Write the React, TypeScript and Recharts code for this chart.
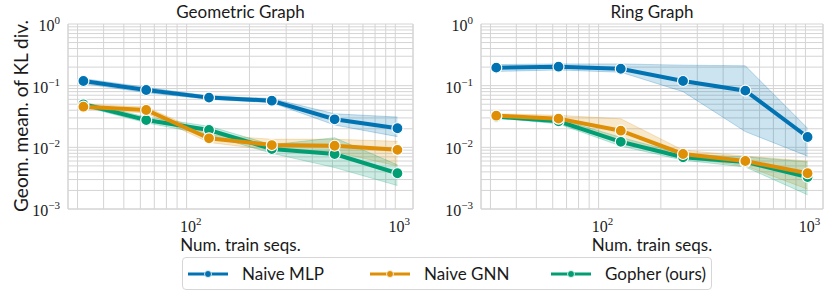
import {
  ComposedChart,
  Line,
  Area,
  XAxis,
  YAxis,
  CartesianGrid,
  ReferenceLine,
} from 'recharts'

// number of training sequences (x)
const trainSeqs = [32, 64, 128, 256, 512, 1024]

// Geometric graph
const mlpGeo = [0.119, 0.085, 0.064, 0.057, 0.0285, 0.0204]
const mlpGeoLo = [0.108, 0.077, 0.06, 0.053, 0.023, 0.0149]
const mlpGeoHi = [0.13, 0.094, 0.068, 0.062, 0.035, 0.031]
const gnnGeo = [0.0456, 0.0403, 0.014, 0.0109, 0.0106, 0.0091]
const gnnGeoLo = [0.042, 0.036, 0.012, 0.009, 0.0085, 0.005]
const gnnGeoHi = [0.05, 0.045, 0.016, 0.0135, 0.0135, 0.0125]
const gopGeo = [0.0499, 0.0277, 0.0191, 0.0094, 0.0078, 0.0038]
const gopGeoLo = [0.046, 0.025, 0.016, 0.008, 0.0047, 0.0024]
const gopGeoHi = [0.054, 0.031, 0.022, 0.011, 0.0143, 0.0052]

// Ring graph
const mlpRing = [0.196, 0.203, 0.188, 0.119, 0.083, 0.0147]
const mlpRingLo = [0.17, 0.18, 0.165, 0.08, 0.018, 0.0072]
const mlpRingHi = [0.22, 0.225, 0.225, 0.215, 0.21, 0.0204]
const gnnRing = [0.0326, 0.0292, 0.0186, 0.0078, 0.006, 0.0038]
const gnnRingLo = [0.031, 0.026, 0.012, 0.0068, 0.005, 0.0021]
const gnnRingHi = [0.035, 0.033, 0.029, 0.009, 0.0072, 0.006]
const gopRing = [0.0314, 0.0264, 0.0123, 0.0069, 0.0058, 0.0033]
const gopRingLo = [0.03, 0.024, 0.0105, 0.0062, 0.0048, 0.0017]
const gopRingHi = [0.033, 0.029, 0.0145, 0.0078, 0.007, 0.0058]

const xMajor = [10, 100, 1000]
const yMajor = [0.001, 0.01, 0.1, 1]
const minorSteps = [1, 2, 3, 4, 5, 6, 7, 8, 9]
const xTicks = xMajor.flatMap((m) => minorSteps.map((s) => m * s)).filter((v) => v >= 27 && v <= 1216)
const yTicks = [...yMajor.slice(0, 3).flatMap((m) => minorSteps.map((s) => m * s)), 1]

const X_DOMAIN: [number, number] = [27, 1216]
const Y_DOMAIN: [number, number] = [0.001, 1]

const COLORS = { mlp: '#0173b2', gnn: '#de8f05', gop: '#029e73' }
const GRID = '#d4d4d4'
const SANS = 'Lato, "Open Sans", sans-serif'
const SERIF = '"Liberation Serif", "DejaVu Serif", serif'
const INK = '#1a1a1a'

type Row = {
  n: number
  mlp: number
  gnn: number
  gop: number
  mlpBand: [number, number]
  gnnBand: [number, number]
  gopBand: [number, number]
}

function buildRows(
  mlp: number[], mlpLo: number[], mlpHi: number[],
  gnn: number[], gnnLo: number[], gnnHi: number[],
  gop: number[], gopLo: number[], gopHi: number[],
): Row[] {
  return trainSeqs.map((n, i) => ({
    n,
    mlp: mlp[i],
    gnn: gnn[i],
    gop: gop[i],
    mlpBand: [mlpLo[i], mlpHi[i]],
    gnnBand: [gnnLo[i], gnnHi[i]],
    gopBand: [gopLo[i], gopHi[i]],
  }))
}

const geoRows = buildRows(mlpGeo, mlpGeoLo, mlpGeoHi, gnnGeo, gnnGeoLo, gnnGeoHi, gopGeo, gopGeoLo, gopGeoHi)
const ringRows = buildRows(mlpRing, mlpRingLo, mlpRingHi, gnnRing, gnnRingLo, gnnRingHi, gopRing, gopRingLo, gopRingHi)

function isPow10(v: number) {
  const l = Math.log10(v)
  return Math.abs(l - Math.round(l)) < 1e-6
}

function expLabel(v: number) {
  const e = Math.round(Math.log10(v))
  return e < 0 ? `\u2212${-e}` : String(e)
}

function YTick({ x, y, payload }: any) {
  if (!isPow10(payload.value)) return <g />
  return (
    <text x={x} y={y + 7} textAnchor="end" fontFamily={SERIF} fontSize={16} fill={INK}>
      <tspan>10</tspan>
      <tspan dy={-7} fontSize={11}>{expLabel(payload.value)}</tspan>
    </text>
  )
}

function XTick({ x, y, payload }: any) {
  if (!isPow10(payload.value)) return <g />
  return (
    <text x={x + 4} y={y + 15} textAnchor="middle" fontFamily={SERIF} fontSize={16} fill={INK}>
      <tspan>10</tspan>
      <tspan dy={-7} fontSize={11}>{expLabel(payload.value)}</tspan>
    </text>
  )
}

const bandKeys: (keyof typeof COLORS)[] = ['mlp', 'gnn', 'gop']
// line draw order: orange ends up on top
const lineKeys: (keyof typeof COLORS)[] = ['mlp', 'gop', 'gnn']

function Panel({ rows, title, left, width }: { rows: Row[]; title: string; left: number; width: number }) {
  const plotLeft = 68
  const plotRight = width - 7
  const center = left + (plotLeft + plotRight) / 2
  return (
    <>
      <div
        style={{
          position: 'absolute', left: center - 120, top: 2, width: 240, textAlign: 'center',
          fontFamily: SANS, fontSize: 17, lineHeight: '20px', color: INK,
        }}
      >
        {title}
      </div>
      <div style={{ position: 'absolute', left, top: 0 }}>
        <ComposedChart
          width={width}
          height={240}
          data={rows}
          margin={{ top: 24, right: 7, left: 8, bottom: 0 }}
        >
          <CartesianGrid stroke={GRID} strokeWidth={1} />
          <XAxis
            dataKey="n"
            type="number"
            scale="log"
            domain={X_DOMAIN}
            ticks={xTicks}
            interval={0}
            allowDataOverflow
            height={31}
            tickLine={false}
            axisLine={{ stroke: GRID }}
            tick={<XTick />}
          />
          <YAxis
            type="number"
            scale="log"
            domain={Y_DOMAIN}
            ticks={yTicks}
            interval={0}
            allowDataOverflow
            width={60}
            tickLine={false}
            axisLine={{ stroke: GRID }}
            tick={<YTick />}
          />
          <ReferenceLine x={X_DOMAIN[1]} stroke={GRID} />
          {bandKeys.map((k) => (
            <Area
              key={k + 'Band'}
              dataKey={k + 'Band'}
              type="linear"
              fill={COLORS[k]}
              fillOpacity={0.2}
              stroke={COLORS[k]}
              strokeOpacity={0.25}
              strokeWidth={1}
              isAnimationActive={false}
              activeDot={false}
            />
          ))}
          {lineKeys.map((k) => (
            <Line
              key={k}
              dataKey={k}
              type="linear"
              stroke={COLORS[k]}
              strokeWidth={4}
              dot={{ r: 5.5, fill: COLORS[k], stroke: '#fff', strokeWidth: 1.2 }}
              activeDot={false}
              isAnimationActive={false}
            />
          ))}
        </ComposedChart>
      </div>
      <div
        style={{
          position: 'absolute', left: center - 120, top: 235, width: 240, textAlign: 'center',
          fontFamily: SANS, fontSize: 17, lineHeight: '20px', color: INK,
        }}
      >
        Num. train seqs.
      </div>
    </>
  )
}

const legendItems = [
  { label: 'Naive MLP', color: COLORS.mlp, x: 5 },
  { label: 'Naive GNN', color: COLORS.gnn, x: 187 },
  { label: 'Gopher (ours)', color: COLORS.gop, x: 368 },
]

export default function App() {
  return (
    <div style={{ position: 'absolute', left: 0, top: 0, width: 830, height: 296, background: '#fff', overflow: 'hidden' }}>
      <Panel rows={geoRows} title="Geometric Graph" left={0} width={420} />
      <Panel rows={ringRows} title="Ring Graph" left={413} width={417} />
      <div
        style={{
          position: 'absolute', left: 21 - 120, top: 105, width: 240, textAlign: 'center',
          fontFamily: SANS, fontSize: 19, lineHeight: '22px', color: INK,
          transform: 'rotate(-90deg)',
        }}
      >
        Geom. mean. of KL div.
      </div>
      <div
        style={{
          position: 'absolute', left: 182, top: 257, width: 530, height: 33, boxSizing: 'border-box',
          border: '1px solid #d6d6d6', borderRadius: 4, background: '#fff',
        }}
      >
        {legendItems.map((it) => (
          <div key={it.label} style={{ position: 'absolute', left: it.x, top: 0, height: 31, display: 'flex', alignItems: 'center' }}>
            <svg width={40} height={10} style={{ display: 'block' }}>
              <line x1={0} y1={5} x2={40} y2={5} stroke={it.color} strokeWidth={3} />
              <circle cx={20} cy={5} r={3.5} fill={it.color} stroke="#fff" strokeWidth={0.8} />
            </svg>
            <span style={{ marginLeft: 14, fontFamily: SANS, fontSize: 17, color: INK }}>{it.label}</span>
          </div>
        ))}
      </div>
    </div>
  )
}
